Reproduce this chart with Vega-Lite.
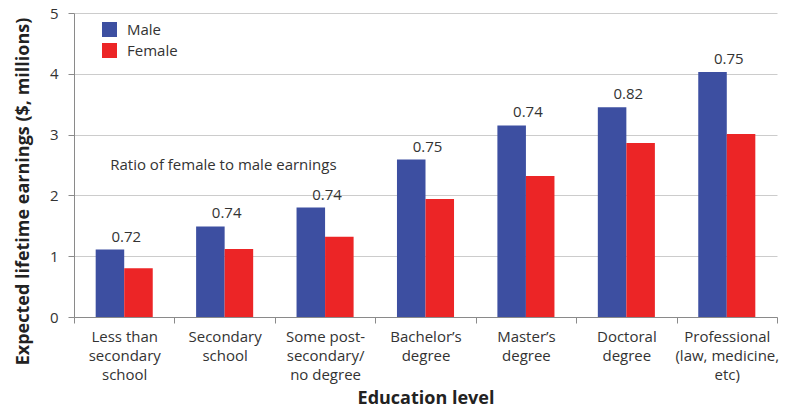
{
  "$schema": "https://vega.github.io/schema/vega-lite/v6.json",
  "width": 703,
  "height": 304,
  "autosize": {"type": "none"},
  "padding": {"left": 74, "top": 13, "right": 9, "bottom": 95},
  "background": "white",
  "config": {
    "font": "Open Sans",
    "view": {"stroke": null},
    "axis": {
      "labelColor": "#333333",
      "titleColor": "#222222",
      "domainColor": "#8a8a8a",
      "tickColor": "#8a8a8a",
      "gridColor": "#cccccc",
      "labelFontSize": 15,
      "titleFontSize": 18,
      "titleFontWeight": "bold"
    }
  },
  "datasets": {
    "earnings": [
      {"level": "Less than|secondary|school", "sex": "Male", "value": 1.11, "ratio": "0.72"},
      {"level": "Less than|secondary|school", "sex": "Female", "value": 0.80, "ratio": "0.72"},
      {"level": "Secondary|school", "sex": "Male", "value": 1.49, "ratio": "0.74"},
      {"level": "Secondary|school", "sex": "Female", "value": 1.12, "ratio": "0.74"},
      {"level": "Some post-|secondary/|no degree", "sex": "Male", "value": 1.80, "ratio": "0.74"},
      {"level": "Some post-|secondary/|no degree", "sex": "Female", "value": 1.32, "ratio": "0.74"},
      {"level": "Bachelor’s|degree", "sex": "Male", "value": 2.59, "ratio": "0.75"},
      {"level": "Bachelor’s|degree", "sex": "Female", "value": 1.94, "ratio": "0.75"},
      {"level": "Master’s|degree", "sex": "Male", "value": 3.15, "ratio": "0.74"},
      {"level": "Master’s|degree", "sex": "Female", "value": 2.32, "ratio": "0.74"},
      {"level": "Doctoral|degree", "sex": "Male", "value": 3.45, "ratio": "0.82"},
      {"level": "Doctoral|degree", "sex": "Female", "value": 2.86, "ratio": "0.82"},
      {"level": "Professional|(law, medicine,|etc)", "sex": "Male", "value": 4.03, "ratio": "0.75"},
      {"level": "Professional|(law, medicine,|etc)", "sex": "Female", "value": 3.01, "ratio": "0.75"}
    ],
    "note": [
      {"level": "Less than|secondary|school", "value": 2.5, "label": "Ratio of female to male earnings"}
    ]
  },
  "encoding": {
    "x": {
      "field": "level",
      "type": "nominal",
      "scale": {
        "domain": ["Less than|secondary|school", "Secondary|school", "Some post-|secondary/|no degree", "Bachelor’s|degree", "Master’s|degree", "Doctoral|degree", "Professional|(law, medicine,|etc)"],
        "paddingInner": 0,
        "paddingOuter": 0
      },
      "axis": {
        "title": "Education level",
        "labelAngle": 0,
        "labelExpr": "datum.value ? split(datum.value, '|') : ''",
        "labelLineHeight": 19,
        "labelPadding": 6,
        "tickBand": "extent",
        "tickSize": 6,
        "titlePadding": 7
      }
    },
    "y": {
      "field": "value",
      "type": "quantitative",
      "scale": {"domain": [0, 5], "nice": false},
      "axis": {
        "title": "Expected lifetime earnings ($, millions)",
        "values": [0, 1, 2, 3, 4, 5],
        "tickSize": 6,
        "labelPadding": 10,
        "titleX": -42,
        "titleY": 178,
        "titleBaseline": "bottom"
      }
    }
  },
  "layer": [
    {
      "data": {"name": "earnings"},
      "mark": {"type": "bar"},
      "encoding": {
        "xOffset": {
          "field": "sex",
          "type": "nominal",
          "scale": {"domain": ["Male", "Female"], "paddingInner": 0, "paddingOuter": 0.76}
        },
        "color": {
          "field": "sex",
          "type": "nominal",
          "scale": {"domain": ["Male", "Female"], "range": ["#3D4FA1", "#EC2526"]},
          "legend": {
            "title": null,
            "orient": "none",
            "legendX": 28,
            "legendY": 9,
            "symbolType": "square",
            "symbolSize": 225,
            "symbolStrokeWidth": 0,
            "symbolOpacity": 1,
            "labelFontSize": 15,
            "labelColor": "#333333",
            "labelOffset": 10,
            "rowPadding": 5
          }
        }
      }
    },
    {
      "data": {"name": "earnings"},
      "transform": [{"filter": "datum.sex === 'Male'"}],
      "mark": {"type": "text", "baseline": "bottom", "dy": -5, "dx": 2, "fontSize": 15, "color": "#333333"},
      "encoding": {"text": {"field": "ratio"}}
    },
    {
      "data": {"name": "note"},
      "mark": {"type": "text", "align": "left", "baseline": "middle", "dx": -14, "fontSize": 15, "color": "#333333"},
      "encoding": {"text": {"field": "label"}}
    }
  ]
}
